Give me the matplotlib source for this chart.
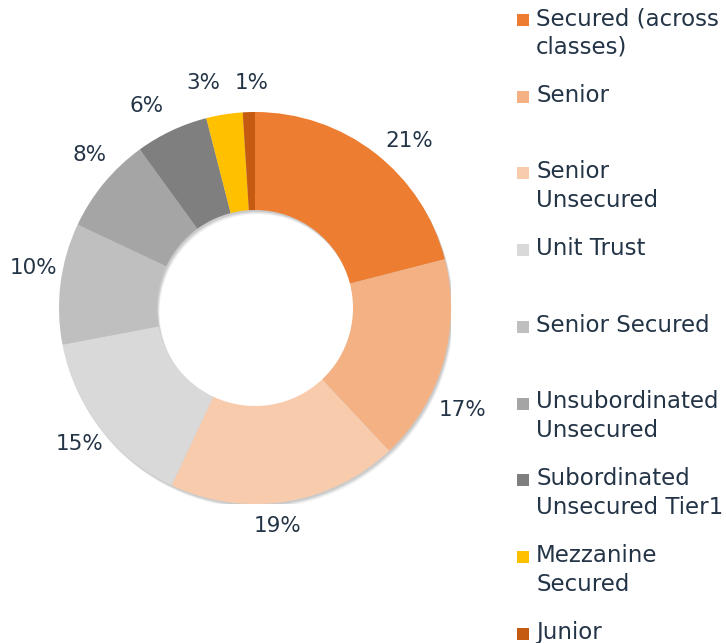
import numpy as np
import matplotlib.pyplot as plt
from matplotlib.patches import Wedge, Rectangle

# data
labels = ['Secured (across\nclasses)', 'Senior', 'Senior\nUnsecured', 'Unit Trust',
          'Senior Secured', 'Unsubordinated\nUnsecured', 'Subordinated\nUnsecured Tier1',
          'Mezzanine\nSecured', 'Junior']
values = [21, 17, 19, 15, 10, 8, 6, 3, 1]
colors = ['#ED7D31', '#F4B183', '#F8CBAD', '#D9D9D9', '#BFBFBF',
          '#A5A5A5', '#7F7F7F', '#FFC000', '#C55A11']

# excel "best fit" moves some labels off the mid angle (degrees, + = counter-clockwise)
label_shift = [-5, -10, -3, 0, -3, -3, 3, 4, -1]
label_dist = [1.16, 1.18, 1.12, 1.13, 1.15, 1.15, 1.17, 1.18, 1.15]

txt_color = '#243447'
W, H = 726, 643

fig = plt.figure(figsize=(W / 100, H / 100), dpi=100)

# pie axes: centre (255, 308) px, radius 196 px
cx, cy, R = 255, 308, 196
ax = fig.add_axes([(cx - R) / W, (H - cy - R) / H, 2 * R / W, 2 * R / H])

# soft shadow behind the ring
for k, a in enumerate([0.05, 0.07, 0.09]):
    off = 0.010 + 0.006 * (2 - k)
    ax.add_patch(Wedge((off * 0.6, -off), 1.0, 0, 360, width=0.5,
                       facecolor='#000000', alpha=a, linewidth=0, zorder=0))

wedges, texts = ax.pie(values, colors=colors, startangle=90, counterclock=False,
                       radius=1.0, labels=[f'{v}%' for v in values], labeldistance=1.16,
                       wedgeprops=dict(width=0.5, linewidth=0),
                       textprops=dict(color=txt_color, fontsize=15.5))
for w, t, s, d in zip(wedges, texts, label_shift, label_dist):
    w.set_zorder(2)
    mid = np.deg2rad((w.theta1 + w.theta2) / 2 + s)
    t.set_position((d * np.cos(mid), d * np.sin(mid)))
    t.set_ha('center')
    t.set_va('center')

ax.set_xlim(-1, 1)
ax.set_ylim(-1, 1)
ax.axis('off')

# legend drawn by hand so that the marker sits on the first line
y0, step = 20, 76.7
for i, (lab, col) in enumerate(zip(labels, colors)):
    yc = y0 + step * i
    fig.patches.append(Rectangle((517 / W, 1 - (yc + 6) / H), 12 / W, 12 / H,
                                 transform=fig.transFigure, facecolor=col,
                                 linewidth=0))
    fig.text(536 / W, 1 - (yc - 13) / H, lab, color=txt_color, fontsize=16.5,
             ha='left', va='top', linespacing=1.33)

fig.savefig('out.png', dpi=100)
